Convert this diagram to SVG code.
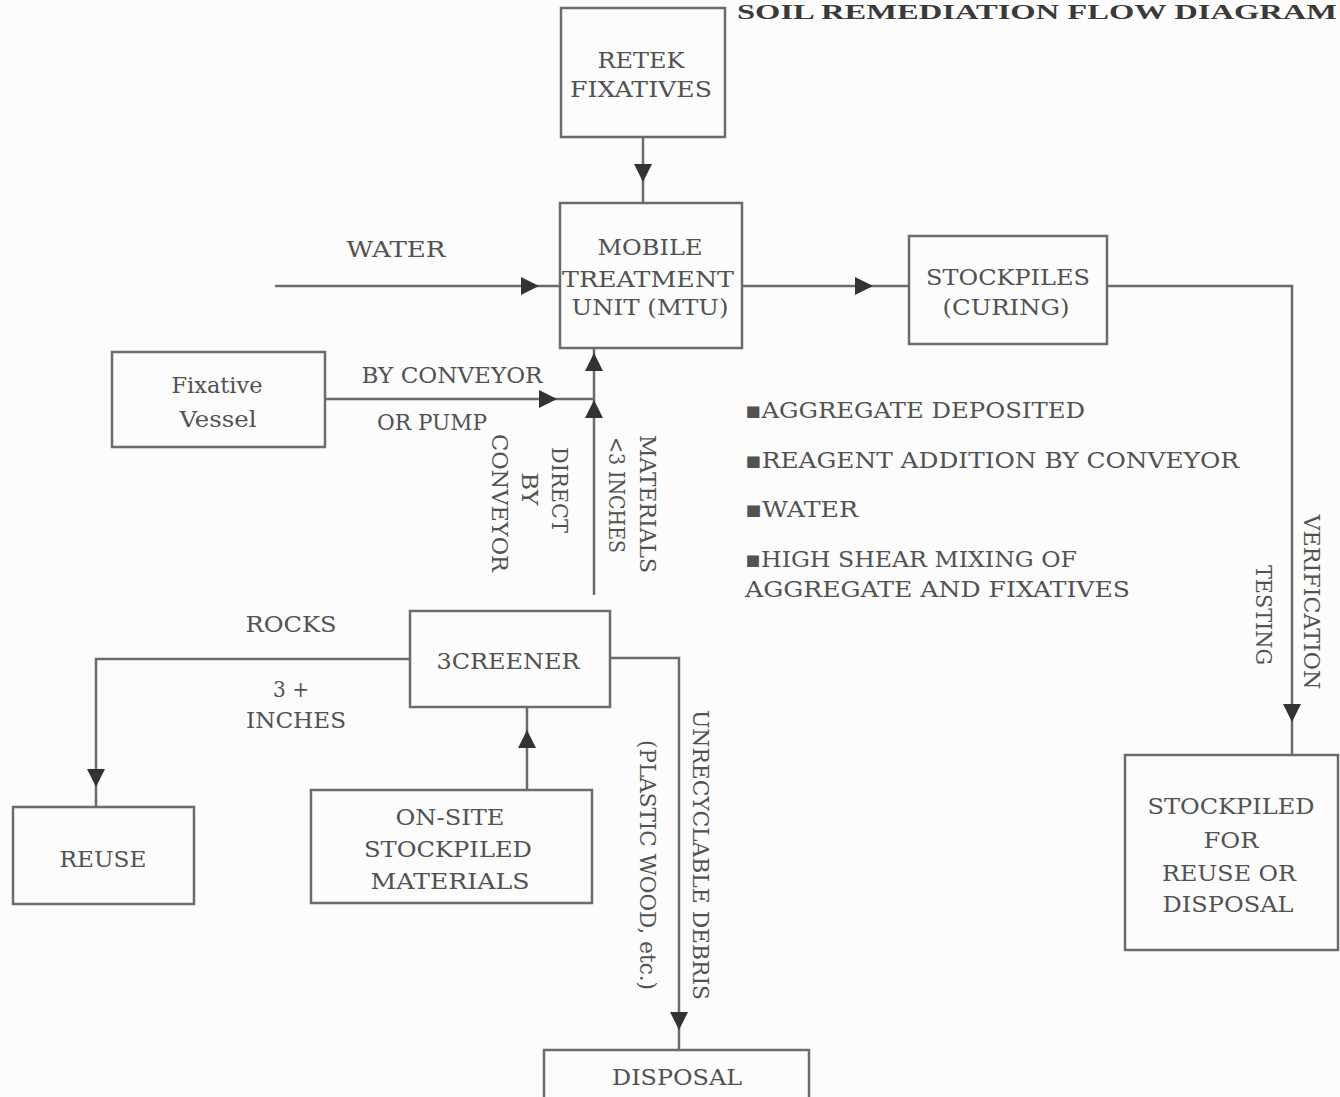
<svg xmlns="http://www.w3.org/2000/svg" width="1340" height="1097" viewBox="0 0 1340 1097">
<style>
.bg{fill:#fcfcfc}
.box{fill:none;stroke:#6b6b6b;stroke-width:2.5}
.conn path{fill:none;stroke:#6b6b6b;stroke-width:2.5}
.t{font-family:"DejaVu Serif","Liberation Serif",serif;font-size:23px;fill:#525252;text-anchor:middle}
.l{text-anchor:start}
.title{font-family:"Liberation Serif",serif;font-size:21px;font-weight:bold;fill:#3a3a3a}
</style>
<defs>
<marker id="ah" viewBox="0 0 18 18" refX="18" refY="9" markerWidth="18" markerHeight="18" markerUnits="userSpaceOnUse" orient="auto">
<path d="M0,0 L18,9 L0,18 z" fill="#333"/>
</marker>
</defs>
<rect class="bg" x="0" y="0" width="1340" height="1097"/>
<text class="title" x="737" y="19" textLength="600" lengthAdjust="spacingAndGlyphs">SOIL REMEDIATION FLOW DIAGRAM</text>

<g class="conn" id="connectors">
<path d="M643,137 V182" marker-end="url(#ah)"/><path d="M643,182 V203"/>
<path d="M275,286 H539" marker-end="url(#ah)"/><path d="M539,286 H560"/>
<path d="M742,286 H873" marker-end="url(#ah)"/><path d="M873,286 H908"/>
<path d="M1107,286 H1292 V722" marker-end="url(#ah)"/><path d="M1292,722 V755"/>
<path d="M325,399 H557" marker-end="url(#ah)"/><path d="M557,399 H594"/>
<path d="M594,595 V400" marker-end="url(#ah)"/><path d="M594,400 V353" marker-end="url(#ah)"/><path d="M594,353 V348"/>
<path d="M410,659 H96 V787" marker-end="url(#ah)"/><path d="M96,787 V807"/>
<path d="M527,790 V730" marker-end="url(#ah)"/><path d="M527,730 V707"/>
<path d="M610,658 H679 V1030" marker-end="url(#ah)"/><path d="M679,1030 V1050"/>
</g>

<g id="retek">
<rect class="box" x="561" y="8" width="164" height="129"/>
<text class="t" x="641" y="68" textLength="87" lengthAdjust="spacingAndGlyphs">RETEK</text>
<text class="t" x="641" y="97" textLength="142" lengthAdjust="spacingAndGlyphs">FIXATIVES</text>
</g>
<g id="mtu">
<rect class="box" x="560" y="203" width="182" height="145"/>
<text class="t" x="650" y="255" textLength="105" lengthAdjust="spacingAndGlyphs">MOBILE</text>
<text class="t" x="648" y="287" textLength="172" lengthAdjust="spacingAndGlyphs">TREATMENT</text>
<text class="t" x="650" y="315" textLength="157" lengthAdjust="spacingAndGlyphs">UNIT (MTU)</text>
</g>
<g id="stockpiles">
<rect class="box" x="909" y="236" width="198" height="108"/>
<text class="t" x="1008" y="285" textLength="164" lengthAdjust="spacingAndGlyphs">STOCKPILES</text>
<text class="t" x="1006" y="315" textLength="127" lengthAdjust="spacingAndGlyphs">(CURING)</text>
</g>
<g id="stockpiled">
<rect class="box" x="1125" y="755" width="213" height="195"/>
<text class="t" x="1231" y="814" textLength="167" lengthAdjust="spacingAndGlyphs">STOCKPILED</text>
<text class="t" x="1231" y="848" textLength="55" lengthAdjust="spacingAndGlyphs">FOR</text>
<text class="t" x="1229" y="881" textLength="134" lengthAdjust="spacingAndGlyphs">REUSE OR</text>
<text class="t" x="1228" y="912" textLength="131" lengthAdjust="spacingAndGlyphs">DISPOSAL</text>
</g>
<g id="vessel">
<rect class="box" x="112" y="352" width="213" height="95"/>
<text class="t" x="217" y="393" textLength="91" lengthAdjust="spacingAndGlyphs">Fixative</text>
<text class="t" x="218" y="427" textLength="77" lengthAdjust="spacingAndGlyphs">Vessel</text>
</g>
<g id="screener">
<rect class="box" x="410" y="611" width="200" height="96"/>
<text class="t" x="508" y="669" textLength="143" lengthAdjust="spacingAndGlyphs">3CREENER</text>
</g>
<g id="reuse">
<rect class="box" x="13" y="807" width="181" height="97"/>
<text class="t" x="103" y="867" textLength="87" lengthAdjust="spacingAndGlyphs">REUSE</text>
</g>
<g id="onsite">
<rect class="box" x="311" y="790" width="281" height="113"/>
<text class="t" x="450" y="825" textLength="109" lengthAdjust="spacingAndGlyphs">ON-SITE</text>
<text class="t" x="448" y="857" textLength="168" lengthAdjust="spacingAndGlyphs">STOCKPILED</text>
<text class="t" x="450" y="889" textLength="159" lengthAdjust="spacingAndGlyphs">MATERIALS</text>
</g>
<g id="disposal">
<rect class="box" x="544" y="1050" width="265" height="70"/>
<text class="t" x="677" y="1085" textLength="130" lengthAdjust="spacingAndGlyphs">DISPOSAL</text>
</g>

<g id="labels">
<text class="t" x="396" y="257" textLength="99" lengthAdjust="spacingAndGlyphs">WATER</text>
<text class="t" x="452" y="383" textLength="181" lengthAdjust="spacingAndGlyphs">BY CONVEYOR</text>
<text class="t" x="432" y="430" textLength="110" lengthAdjust="spacingAndGlyphs">OR PUMP</text>
<text class="t l" x="745" y="418" textLength="340" lengthAdjust="spacingAndGlyphs">▪AGGREGATE DEPOSITED</text>
<text class="t l" x="745" y="468" textLength="494" lengthAdjust="spacingAndGlyphs">▪REAGENT ADDITION BY CONVEYOR</text>
<text class="t l" x="745" y="517" textLength="113" lengthAdjust="spacingAndGlyphs">▪WATER</text>
<text class="t l" x="745" y="567" textLength="332" lengthAdjust="spacingAndGlyphs">▪HIGH SHEAR MIXING OF</text>
<text class="t l" x="745" y="597" textLength="385" lengthAdjust="spacingAndGlyphs">AGGREGATE AND FIXATIVES</text>
<text class="t" x="291" y="632" textLength="91" lengthAdjust="spacingAndGlyphs">ROCKS</text>
<text class="t" x="291" y="697" textLength="36" lengthAdjust="spacingAndGlyphs">3 +</text>
<text class="t" x="296" y="728" textLength="100" lengthAdjust="spacingAndGlyphs">INCHES</text>
<text class="t" transform="translate(552,490) rotate(90)" textLength="86" lengthAdjust="spacingAndGlyphs">DIRECT</text>
<text class="t" transform="translate(522,489) rotate(90)" textLength="33" lengthAdjust="spacingAndGlyphs">BY</text>
<text class="t" transform="translate(492,503) rotate(90)" textLength="138" lengthAdjust="spacingAndGlyphs">CONVEYOR</text>
<text class="t" transform="translate(640,504) rotate(90)" textLength="138" lengthAdjust="spacingAndGlyphs">MATERIALS</text>
<text class="t" transform="translate(609,495) rotate(90)" textLength="116" lengthAdjust="spacingAndGlyphs">&lt;3 INCHES</text>
<text class="t" transform="translate(1304,602) rotate(90)" textLength="175" lengthAdjust="spacingAndGlyphs">VERIFICATION</text>
<text class="t" transform="translate(1256,615) rotate(90)" textLength="100" lengthAdjust="spacingAndGlyphs">TESTING</text>
<text class="t" transform="translate(693,855) rotate(90)" textLength="290" lengthAdjust="spacingAndGlyphs">UNRECYCLABLE DEBRIS</text>
<text class="t" transform="translate(640,865) rotate(90)" textLength="250" lengthAdjust="spacingAndGlyphs">(PLASTIC WOOD, etc.)</text>
</g>
</svg>
